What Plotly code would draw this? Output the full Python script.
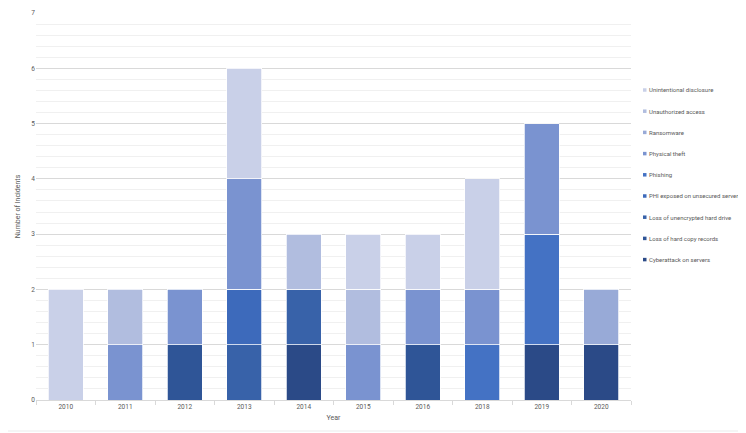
import plotly.graph_objects as go

years = ["2010", "2011", "2012", "2013", "2014", "2015", "2016", "2018", "2019", "2020"]

# bottom to top in the stack
cyberattack = [0, 0, 0, 0, 1, 0, 0, 0, 1, 1]
hard_copy = [0, 0, 1, 0, 0, 0, 1, 0, 0, 0]
unencrypted_drive = [0, 0, 0, 1, 1, 0, 0, 0, 0, 0]
phi_exposed = [0, 0, 0, 1, 0, 0, 0, 0, 0, 0]
phishing = [0, 0, 0, 0, 0, 0, 0, 1, 2, 0]
physical_theft = [0, 1, 1, 2, 0, 1, 1, 1, 2, 0]
ransomware = [0, 0, 0, 0, 0, 0, 0, 0, 0, 1]
unauthorized = [0, 1, 0, 0, 1, 1, 0, 0, 0, 0]
unintentional = [2, 0, 0, 2, 0, 1, 1, 2, 0, 0]

series = [
    ("Cyberattack on servers", cyberattack, "#2B4A87"),
    ("Loss of hard copy records", hard_copy, "#2F5597"),
    ("Loss of unencrypted hard drive", unencrypted_drive, "#3862A9"),
    ("PHI exposed on unsecured server", phi_exposed, "#3D6ABB"),
    ("Phishing", phishing, "#4472C4"),
    ("Physical theft", physical_theft, "#7A93D0"),
    ("Ransomware", ransomware, "#98AAD7"),
    ("Unauthorized access", unauthorized, "#B1BDDF"),
    ("Unintentional disclosure", unintentional, "#C9D0E8"),
]

W_FIG, H_FIG = 746, 433
L, R, T, B = 28, 123, 5, 41
PW, PH = W_FIG - L - R, H_FIG - T - B

fig = go.Figure()
for name, vals, color in series:
    fig.add_trace(go.Bar(
        x=years,
        y=[v if v else None for v in vals],
        name=name,
        showlegend=False,
        marker=dict(color=color, line=dict(color="white", width=0.75)),
    ))

def px_x(fx):
    return (fx - L) / PW

def px_y(fy):
    return (H_FIG - B - fy) / PH

# custom legend (top to bottom: reverse of stack order)
leg_x = 635
leg_y0 = 82
leg_dy = 21.2
sq = 3.5
for k, (name, vals, color) in enumerate(reversed(series)):
    cy = leg_y0 + k * leg_dy
    fig.add_shape(type="rect", xref="paper", yref="paper",
                  x0=px_x(leg_x), x1=px_x(leg_x + sq),
                  y0=px_y(cy + sq / 2), y1=px_y(cy - sq / 2),
                  fillcolor=color, line=dict(width=0))
    fig.add_annotation(xref="paper", yref="paper", x=px_x(leg_x + sq + 1), y=px_y(cy),
                       text=name, showarrow=False, xanchor="left", yanchor="middle",
                       font=dict(size=6, color="#595959", family="Roboto, sans-serif"))

# faint chart-area border (right and bottom edges)
fig.add_shape(type="line", xref="paper", yref="paper",
              x0=px_x(-10), x1=px_x(736), y0=px_y(423), y1=px_y(423),
              line=dict(color="#ebebeb", width=1), layer="below")
fig.add_shape(type="line", xref="paper", yref="paper",
              x0=px_x(736), x1=px_x(736), y0=px_y(-10), y1=px_y(423),
              line=dict(color="#ebebeb", width=1), layer="below")

font_family = "Roboto, Liberation Sans, sans-serif"
fig.update_layout(
    barmode="stack",
    bargap=0.41,
    width=W_FIG,
    height=H_FIG,
    margin=dict(l=L, r=R, t=T, b=B, autoexpand=False),
    paper_bgcolor="white",
    plot_bgcolor="white",
    showlegend=False,
    font=dict(family=font_family, size=7, color="#595959"),
    xaxis=dict(
        type="category",
        title=dict(text="Year", font=dict(size=7, color="#595959"), standoff=5),
        showline=True, linecolor="#d9d9d9", linewidth=1,
        ticks="outside", tickson="boundaries", ticklen=4, tickcolor="#d9d9d9",
        tickfont=dict(size=6.5, color="#595959"),
        showgrid=False,
    ),
    yaxis=dict(
        range=[0, 7],
        dtick=1,
        title=dict(text="Number of Incidents", font=dict(size=7, color="#595959"), standoff=9),
        showgrid=True, gridcolor="#d9d9d9", gridwidth=1,
        minor=dict(dtick=0.2, showgrid=True, gridcolor="#f0f0f0", gridwidth=1),
        zeroline=False,
        ticks="", tickfont=dict(size=6.5, color="#595959"),
        ticklabeloverflow="allow",
        showline=False,
    ),
)

fig.write_html("out.html")
